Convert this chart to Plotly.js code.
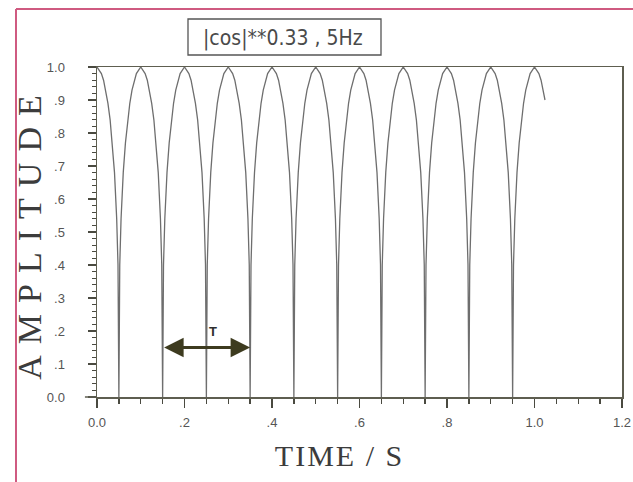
<!DOCTYPE html>
<html>
<head>
<meta charset="utf-8">
<script src="https://cdn.plot.ly/plotly-3.0.1.min.js"></script>
<style>
  html, body { margin: 0; padding: 0; background: #ffffff; }
  #chart { width: 633px; height: 482px; }
  .g-ytitle text { letter-spacing: 11px; }
  .g-ytitle { transform: translate(5px, 0px); }
  .g-xtitle text { letter-spacing: 2px; }
  .g-xtitle { transform: translate(-20px, 0px); }
</style>
</head>
<body>
<div id="chart"></div>
<script>
// Time samples (s)
const timeS = [
  0, .01, .015, .02, .025, .03, .035, .04, .045, .048, .05, .052, .055, .06, .065, .07, .075, .08, .085, .09, .1,
  .11, .115, .12, .125, .13, .135, .14, .145, .148, .15, .152, .155, .16, .165, .17, .175, .18, .185, .19, .2,
  .21, .215, .22, .225, .23, .235, .24, .245, .248, .25, .252, .255, .26, .265, .27, .275, .28, .285, .29, .3,
  .31, .315, .32, .325, .33, .335, .34, .345, .348, .35, .352, .355, .36, .365, .37, .375, .38, .385, .39, .4,
  .41, .415, .42, .425, .43, .435, .44, .445, .448, .45, .452, .455, .46, .465, .47, .475, .48, .485, .49, .5,
  .51, .515, .52, .525, .53, .535, .54, .545, .548, .55, .552, .555, .56, .565, .57, .575, .58, .585, .59, .6,
  .61, .615, .62, .625, .63, .635, .64, .645, .648, .65, .652, .655, .66, .665, .67, .675, .68, .685, .69, .7,
  .71, .715, .72, .725, .73, .735, .74, .745, .748, .75, .752, .755, .76, .765, .77, .775, .78, .785, .79, .8,
  .81, .815, .82, .825, .83, .835, .84, .845, .848, .85, .852, .855, .86, .865, .87, .875, .88, .885, .89, .9,
  .91, .915, .92, .925, .93, .935, .94, .945, .948, .95, .952, .955, .96, .965, .97, .975, .98, .985, .99, 1.0,
  1.01, 1.015, 1.02, 1.024
];
// Amplitude values read at those times
const amplitude = [
  1.0, .98, .96, .93, .89, .84, .77, .68, .54, .40, 0, .40, .54, .68, .77, .84, .89, .93, .96, .98, 1.0,
  .98, .96, .93, .89, .84, .77, .68, .54, .40, 0, .40, .54, .68, .77, .84, .89, .93, .96, .98, 1.0,
  .98, .96, .93, .89, .84, .77, .68, .54, .40, 0, .40, .54, .68, .77, .84, .89, .93, .96, .98, 1.0,
  .98, .96, .93, .89, .84, .77, .68, .54, .40, 0, .40, .54, .68, .77, .84, .89, .93, .96, .98, 1.0,
  .98, .96, .93, .89, .84, .77, .68, .54, .40, 0, .40, .54, .68, .77, .84, .89, .93, .96, .98, 1.0,
  .98, .96, .93, .89, .84, .77, .68, .54, .40, 0, .40, .54, .68, .77, .84, .89, .93, .96, .98, 1.0,
  .98, .96, .93, .89, .84, .77, .68, .54, .40, 0, .40, .54, .68, .77, .84, .89, .93, .96, .98, 1.0,
  .98, .96, .93, .89, .84, .77, .68, .54, .40, 0, .40, .54, .68, .77, .84, .89, .93, .96, .98, 1.0,
  .98, .96, .93, .89, .84, .77, .68, .54, .40, 0, .40, .54, .68, .77, .84, .89, .93, .96, .98, 1.0,
  .98, .96, .93, .89, .84, .77, .68, .54, .40, 0, .40, .54, .68, .77, .84, .89, .93, .96, .98, 1.0,
  .98, .96, .93, .90
];

const xTickVals = [0, 0.2, 0.4, 0.6, 0.8, 1.0, 1.2];
const xTickText = ['0.0', '.2', '.4', '.6', '.8', '1.0', '1.2'];
const yTickVals = [0, 0.1, 0.2, 0.3, 0.4, 0.5, 0.6, 0.7, 0.8, 0.9, 1.0];
const yTickText = ['0.0', '.1', '.2', '.3', '.4', '.5', '.6', '.7', '.8', '.9', '1.0'];

const chartTitle = '|cos|**0.33 , 5Hz';
const periodLabel = 'T';
const periodStart = [0.15];
const periodEnd = [0.35];
const periodLevel = [0.15];

const axisColor = '#5e5e50';
const tickColor = '#4a4a40';
const tickFont = { family: '"Liberation Sans", Arial, sans-serif', size: 13, color: '#555555' };

const trace = {
  x: timeS, y: amplitude, type: 'scatter', mode: 'lines',
  line: { color: '#6e6e6e', width: 1.3 },
  hoverinfo: 'skip', showlegend: false
};

const layout = {
  width: 633, height: 482,
  margin: { l: 97, r: 11, t: 67, b: 85 },
  paper_bgcolor: '#ffffff', plot_bgcolor: '#ffffff',
  showlegend: false,
  xaxis: {
    range: [0, 1.2], tickmode: 'array', tickvals: xTickVals, ticktext: xTickText,
    ticks: 'outside', ticklen: 9, tickwidth: 1.4, tickcolor: tickColor,
    minor: { dtick: 0.05, ticks: 'outside', ticklen: 5, tickwidth: 1.3, tickcolor: tickColor, showgrid: false },
    showline: true, linecolor: axisColor, linewidth: 1.5, mirror: true,
    showgrid: false, zeroline: false, tickfont: tickFont, ticklabelstandoff: 4,
    title: { text: 'TIME / S', font: { family: '"Liberation Serif", "DejaVu Serif", serif', size: 30, color: '#3c3c3c' }, standoff: 16 }
  },
  yaxis: {
    range: [0, 1.0], tickmode: 'array', tickvals: yTickVals, ticktext: yTickText,
    ticks: 'outside', ticklen: 8, tickwidth: 1.4, tickcolor: tickColor,
    minor: { dtick: 0.02, ticks: 'outside', ticklen: 4, tickwidth: 1.3, tickcolor: tickColor, showgrid: false },
    showline: true, linecolor: axisColor, linewidth: 1.5, mirror: true,
    showgrid: false, zeroline: false, tickfont: tickFont, ticklabelstandoff: 20,
    title: { text: 'AMPLITUDE', font: { family: '"Liberation Serif", "DejaVu Serif", serif', size: 34, color: '#3c3c3c' }, standoff: 0 }
  },
  shapes: [
    // pink scan frame
    { type: 'line', xref: 'paper', yref: 'paper', x0: -0.1543, x1: -0.1543, y0: 1.1758, y1: -0.27, line: { color: '#cf5a80', width: 2 } },
    { type: 'line', xref: 'paper', yref: 'paper', x0: -0.1543, x1: 1.03, y0: 1.1758, y1: 1.1758, line: { color: '#cf5a80', width: 2 } },
    // bottom axis extension left of origin
    { type: 'line', xref: 'paper', yref: 'paper', x0: -0.023, x1: 0, y0: 0, y1: 0, line: { color: axisColor, width: 1.5 } },
    // title box
    { type: 'rect', xref: 'paper', yref: 'paper', x0: (188 - 97) / 525, x1: (381 - 97) / 525, y0: (397 - 55) / 330, y1: (397 - 19) / 330, line: { color: '#555555', width: 1.3 }, fillcolor: 'rgba(0,0,0,0)' }
  ],
  annotations: [
    { xref: 'paper', yref: 'paper', x: (283 - 97) / 525, y: (397 - 38) / 330, xanchor: 'center', yanchor: 'middle',
      text: chartTitle, showarrow: false, font: { family: '"DejaVu Sans Condensed", "DejaVu Sans", sans-serif', size: 21, color: '#4a4a4a' } },
    { x: periodEnd[0], y: periodLevel[0], ax: periodStart[0], ay: periodLevel[0], xref: 'x', yref: 'y', axref: 'x', ayref: 'y',
      text: '', showarrow: true, arrowside: 'end+start', arrowhead: 2, arrowsize: 1.3, arrowwidth: 3, arrowcolor: '#3d3b1f', standoff: 0, startstandoff: 0 },
    { x: (periodStart[0] + periodEnd[0]) / 2 + 0.015, y: periodLevel[0] + 0.05, xref: 'x', yref: 'y',
      text: '<b>' + periodLabel + '</b>', showarrow: false, font: { family: 'Liberation Sans, Arial, sans-serif', size: 13, color: '#2d2d2d' } }
  ]
};

Plotly.newPlot('chart', [trace], layout, { displayModeBar: false, staticPlot: true });
</script>
</body>
</html>
